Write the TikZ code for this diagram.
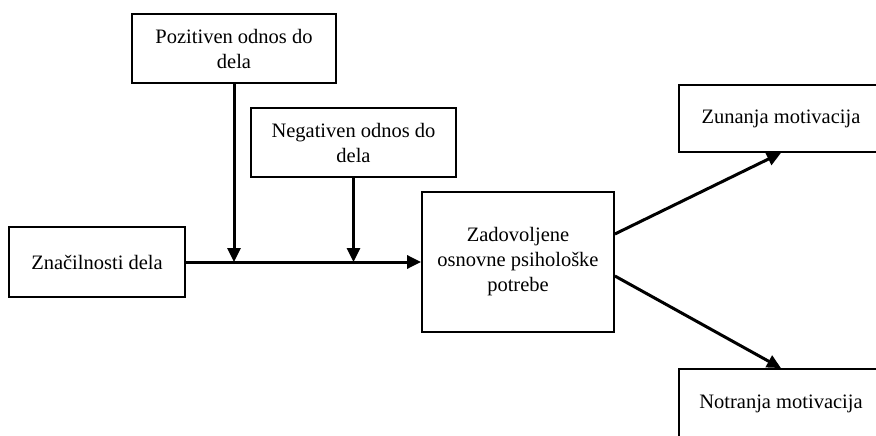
\documentclass[tikz,border=0pt]{standalone}
\usepackage{fontspec}
\setmainfont{Liberation Serif}
\usetikzlibrary{arrows.meta}
\begin{document}
\begin{tikzpicture}[x=1pt,y=-1pt,
  box/.style={draw, line width=1.8pt, align=center, inner sep=0pt,
    font=\fontsize{20.5}{25}\selectfont},
  conn/.style={line width=3pt, -{Triangle[length=14pt,width=13pt]}}]
\clip (0,0) rectangle (876,436);
\useasboundingbox (0,0) rectangle (876,436);
\node[box, minimum width=204pt, minimum height=69pt] (poz) at (234,48.5) {Pozitiven odnos do\\dela};
\node[box, minimum width=205pt, minimum height=69pt] (neg) at (353.5,142.5) {Negativen odnos do\\dela};
\node[box, minimum width=176pt, minimum height=70pt] (zna) at (97,262) {Značilnosti dela};
\node[box, minimum width=192pt, minimum height=140pt] (zad) at (518,262) {Zadovoljene\\osnovne psihološke\\potrebe};
\node[box, minimum width=204pt, minimum height=67pt] (zun) at (781,118.5) {Zunanja motivacija};
\node[box, minimum width=204pt, minimum height=70pt] (not) at (781,404) {Notranja motivacija};
\coordinate (j1) at (poz.south |- zna.east);
\coordinate (j2) at (neg.south |- zna.east);
\draw[conn] (zna.east) -- (zad.west);
\draw[conn] (poz.south) -- (j1);
\draw[conn] (neg.south) -- (j2);
\draw[conn] ([yshift=28pt]zad.east) -- (zun.south);
\draw[conn] ([yshift=-14pt]zad.east) -- (not.north);
\end{tikzpicture}
\end{document}
